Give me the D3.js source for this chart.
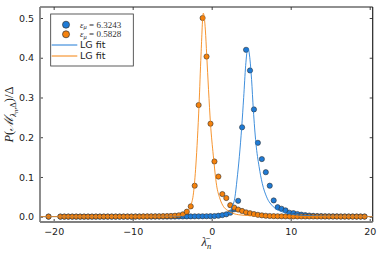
<!DOCTYPE html>
<html>
<head>
<meta charset="utf-8">
<script src="https://cdn.jsdelivr.net/npm/d3@7"></script>
<style>
  body { margin: 0; background: #fff; }
  svg { display: block; }
  .tick text { font-family: "DejaVu Sans", sans-serif; font-size: 9.5px; fill: #222; }
  .tick line { stroke: #444; }
</style>
</head>
<body>
<svg id="chart" width="381" height="254"></svg>
<script>
// histogram bins (lambda bar) shared by both series
var lambdaBins = [-20.65, -19.15, -18.65, -18.15, -17.65, -17.15, -16.65, -16.15, -15.65, -15.15,
    -14.65, -14.15, -13.65, -13.15, -12.65, -12.15, -11.65, -11.15, -10.65, -10.15,
    -9.65, -9.15, -8.65, -8.15, -7.65, -7.15, -6.65, -6.15, -5.65, -5.15,
    -4.65, -4.15, -3.65, -3.15, -2.65, -2.15, -1.65, -1.15, -0.65, -0.15,
    0.35, 0.85, 1.35, 1.85, 2.35, 2.85, 3.35, 3.85, 4.35, 4.85,
    5.35, 5.85, 6.35, 6.85, 7.35, 7.85, 8.35, 8.85, 9.35, 9.85,
    10.35, 10.85, 11.35, 11.85, 12.35, 12.85, 13.35, 13.85, 14.35, 14.85,
    15.35, 15.85, 16.35, 16.85, 17.35, 17.85, 18.35, 18.85, 19.35];

// eps_mu = 6.3243
var probBlue = [0.0002, 0.0002, 0.0002, 0.0002, 0.0002, 0.0002, 0.0002, 0.0002, 0.0002, 0.0002,
    0.0002, 0.0002, 0.0002, 0.0002, 0.0002, 0.0002, 0.0002, 0.0002, 0.0002, 0.0002,
    0.0003, 0.0003, 0.0003, 0.0003, 0.0003, 0.0003, 0.0003, 0.0003, 0.0003, 0.0003,
    0.0004, 0.0005, 0.0006, 0.0007, 0.0008, 0.0009, 0.001, 0.0011, 0.0012, 0.0014,
    0.0017, 0.0025, 0.004, 0.006, 0.010, 0.019, 0.040, 0.225, 0.420, 0.368,
    0.270, 0.186, 0.145, 0.112, 0.078, 0.041, 0.024, 0.020, 0.016, 0.010,
    0.009, 0.0068, 0.0052, 0.004, 0.003, 0.0022, 0.0017, 0.0013, 0.001, 0.0009,
    0.0008, 0.0007, 0.0006, 0.0006, 0.0005, 0.0005, 0.0004, 0.0004, 0.0004];

// eps_mu = 0.5828
var probOrange = [0.0004, 0.0004, 0.0004, 0.0004, 0.0004, 0.0004, 0.0004, 0.0004, 0.0004, 0.0004,
    0.0005, 0.0005, 0.0005, 0.0005, 0.0005, 0.0005, 0.0005, 0.0005, 0.0005, 0.0005,
    0.0006, 0.0006, 0.0007, 0.0008, 0.0009, 0.001, 0.0011, 0.0013, 0.0016, 0.002,
    0.0026, 0.0036, 0.006, 0.0126, 0.026, 0.078, 0.281, 0.500, 0.403, 0.234,
    0.139, 0.101, 0.057, 0.047, 0.029, 0.023, 0.018, 0.0145, 0.011, 0.0088,
    0.0068, 0.0048, 0.0034, 0.0024, 0.0018, 0.0014, 0.0012, 0.001, 0.0009, 0.0008,
    0.0008, 0.0007, 0.0007, 0.0006, 0.0006, 0.0006, 0.0005, 0.0005, 0.0005, 0.0005,
    0.0005, 0.0005, 0.0004, 0.0004, 0.0004, 0.0004, 0.0004, 0.0004, 0.0004];

// LG fit curves
var fitBlueX = [-21.7, -15, -10, -6, -3, -1, 0, 1, 1.6, 2.1, 2.6, 2.95, 3.2, 3.5, 3.8, 4.05, 4.3, 4.58,
    4.85, 5.05, 5.27, 5.6, 6.0, 6.4, 6.95, 7.8, 8.9, 10, 12, 15, 20.4];
var fitBlueY = [0.0003, 0.0004, 0.0006, 0.001, 0.0015, 0.002, 0.0026, 0.0038, 0.0055, 0.009, 0.025, 0.05,
    0.092, 0.151, 0.225, 0.30, 0.38, 0.425, 0.395, 0.345, 0.27, 0.185, 0.126, 0.084, 0.05, 0.025,
    0.0126, 0.0065, 0.003, 0.0012, 0.0005];
var fitOrangeX = [-21.7, -15, -10, -7, -5, -4.2, -3.6, -3.1, -2.62, -2.3, -2.0, -1.6, -1.35, -1.06,
    -0.8, -0.63, -0.4, -0.15, 0.2, 0.63, 1.0, 1.39, 2.3, 3.4, 5, 7, 10, 15, 20.4];
var fitOrangeY = [0.0002, 0.0003, 0.0005, 0.0008, 0.0014, 0.0025, 0.004, 0.0126, 0.029, 0.06, 0.13,
    0.281, 0.407, 0.512, 0.47, 0.407, 0.32, 0.234, 0.155, 0.078, 0.048, 0.029, 0.0126, 0.005,
    0.0025, 0.0013, 0.0007, 0.0004, 0.0002];

var xTicks = [-20, -10, 0, 10, 20];
var yTicks = [0, 0.1, 0.2, 0.3, 0.4, 0.5];
var epsLabels = ["6.3243", "0.5828"];
var fitLabel = "LG fit";

var blue = "#1f7bd6";
var orange = "#f5820d";

var margin = {top: 7, right: 8.3, bottom: 32, left: 40};
var svg = d3.select("#chart");
var W = +svg.attr("width"), H = +svg.attr("height");
var width = W - margin.left - margin.right;
var height = H - margin.top - margin.bottom;

var x = d3.scaleLinear().domain([-21.73, 20.38]).range([0, width]);
var y = d3.scaleLinear().domain([-0.0133, 0.5277]).range([height, 0]);

var g = svg.append("g").attr("transform", "translate(" + margin.left + "," + margin.top + ")");

svg.append("defs").append("clipPath").attr("id", "clip")
    .append("rect").attr("width", width).attr("height", height);

// axes with inward ticks
var ax = g.append("g").attr("transform", "translate(0," + height + ")")
    .call(d3.axisBottom(x).tickValues(xTicks).tickSize(-3).tickPadding(6));
var ay = g.append("g")
    .call(d3.axisLeft(y).tickValues(yTicks).tickSize(-3).tickPadding(6).tickFormat(d3.format(".1f")));
var at = g.append("g")
    .call(d3.axisTop(x).tickValues(xTicks).tickSize(-3).tickFormat(""));
var ar = g.append("g").attr("transform", "translate(" + width + ",0)")
    .call(d3.axisRight(y).tickValues(yTicks).tickSize(-3).tickFormat(""));
g.selectAll(".domain").remove();

// frame
g.append("line").attr("x1", 0).attr("x2", width).attr("y1", 0).attr("y2", 0)
    .attr("stroke", "#222").attr("stroke-width", 1.2);
g.append("line").attr("x1", width).attr("x2", width).attr("y1", 0).attr("y2", height)
    .attr("stroke", "#222").attr("stroke-width", 1.2);
g.append("line").attr("x1", 0).attr("x2", 0).attr("y1", 0).attr("y2", height)
    .attr("stroke", "#808080").attr("stroke-width", 1.8);
g.append("line").attr("x1", 0).attr("x2", width).attr("y1", height).attr("y2", height)
    .attr("stroke", "#808080").attr("stroke-width", 1.8);

var plot = g.append("g").attr("clip-path", "url(#clip)");

function dots(vals, color) {
    plot.append("g").selectAll("circle")
        .data(lambdaBins)
        .join("circle")
        .attr("cx", function(d) { return x(d); })
        .attr("cy", function(d, i) { return y(vals[i]); })
        .attr("r", 2.6)
        .attr("fill", color)
        .attr("stroke", "#333")
        .attr("stroke-width", 0.6);
}
dots(probBlue, blue);
dots(probOrange, orange);

function fit(xs, ys, color) {
    var line = d3.line()
        .x(function(d) { return x(d); })
        .y(function(d, i) { return y(ys[i]); })
        .curve(d3.curveMonotoneX);
    plot.append("path")
        .attr("d", line(xs))
        .attr("fill", "none")
        .attr("stroke", color)
        .attr("stroke-opacity", 0.85)
        .attr("stroke-width", 1);
}
fit(fitBlueX, fitBlueY, blue);
fit(fitOrangeX, fitOrangeY, orange);

// legend
var lg = g.append("g").attr("transform", "translate(10.7,7)");
lg.append("rect").attr("width", 82.6).attr("height", 52)
    .attr("fill", "#fff").attr("stroke", "#333").attr("stroke-width", 0.8);
var colors = [blue, orange];
epsLabels.forEach(function(lab, i) {
    var yy = 10.7 + i * 9.6;
    lg.append("circle").attr("cx", 15.3).attr("cy", yy).attr("r", 3.5)
        .attr("fill", colors[i]).attr("stroke", "#333").attr("stroke-width", 0.7);
    var t = lg.append("text").attr("x", 29.3).attr("y", yy + 2.8)
        .style("font-family", "'Liberation Serif', serif").style("font-size", "9px").attr("fill", "#333");
    t.append("tspan").style("font-style", "italic").text("ε");
    t.append("tspan").attr("dy", 1.5).style("font-size", "6.5px").style("font-style", "italic").text("μ");
    t.append("tspan").attr("dy", -1.5).text(" = " + lab);
});
colors.forEach(function(c, i) {
    var yy = 31 + i * 11;
    lg.append("line").attr("x1", 1).attr("x2", 26.6).attr("y1", yy).attr("y2", yy)
        .attr("stroke", c).attr("stroke-width", 1);
    lg.append("text").attr("x", 29.3).attr("y", yy + 3.4)
        .style("font-family", "'DejaVu Sans', sans-serif").style("font-size", "9.5px").attr("fill", "#222")
        .text(fitLabel);
});

// axis labels
var xl = svg.append("text").attr("x", margin.left + width / 2).attr("y", 246)
    .attr("text-anchor", "middle")
    .style("font-family", "'Liberation Serif', serif").style("font-size", "12.5px").attr("fill", "#222");
xl.append("tspan").style("font-style", "italic").text("λ\u0304");
xl.append("tspan").attr("dy", 2.5).style("font-size", "8.5px").style("font-style", "italic").text("n");

var yl = svg.append("text")
    .attr("transform", "translate(13," + (margin.top + height / 2) + ") rotate(-90)")
    .attr("text-anchor", "middle")
    .style("font-family", "'Liberation Serif', serif").style("font-size", "12.5px").attr("fill", "#222");
yl.append("tspan").style("font-style", "italic").text("P");
yl.append("tspan").text("(");
yl.append("tspan").style("font-style", "italic").text("ℳ");
yl.append("tspan").attr("dy", 3).style("font-size", "8.5px").style("font-style", "italic").text("λ");
yl.append("tspan").attr("dy", 1.5).style("font-size", "6.5px").style("font-style", "italic").text("n");
yl.append("tspan").attr("dy", -1.5).style("font-size", "8.5px").text(",Δ");
yl.append("tspan").attr("dy", -3).text(")/Δ");
</script>
</body>
</html>
